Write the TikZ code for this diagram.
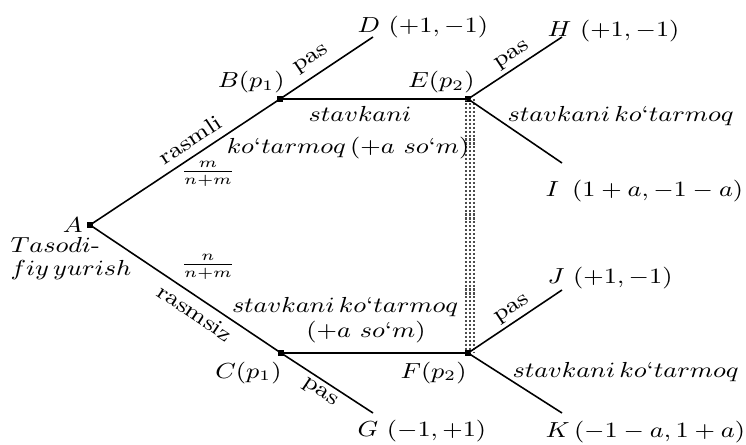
\documentclass[tikz,border=0pt]{standalone}
\usepackage{amsmath}
\usepackage{graphicx}
\newcommand\sx[1]{\scalebox{1.08}[0.92]{#1}}
\newcommand\ap{\mbox{‘}}
\begin{document}
\begin{tikzpicture}[x=0.38pt,y=-0.38pt,
  lbl/.style={inner sep=0pt, font=\fontsize{9}{11}\selectfont},
  edge/.style={line width=0.6pt},
  band/.style={line width=0.8pt, dash pattern=on 0.8pt off 0.7pt, black!70},
  dotnode/.style={fill, rectangle, inner sep=0pt, minimum size=2.2pt}]
\useasboundingbox (0,0) rectangle (746,444);
% decision points
\node[dotnode] (A) at (90,225) {};
\node[dotnode] (B) at (280,99) {};
\node[dotnode] (E) at (468,99) {};
\node[dotnode] (C) at (281,353) {};
\node[dotnode] (F) at (468,353) {};
% leaves
\coordinate (Dp) at (373,37);
\coordinate (Hp) at (562,37);
\coordinate (Ip) at (562,163);
\coordinate (Gp) at (373,413);
\coordinate (Jp) at (562,290);
\coordinate (Kp) at (562,413);
% information set band
\draw[band] ([xshift=-0.76pt]E.center) -- ([xshift=-0.76pt]F.center);
\draw[band] ([xshift=0.76pt]E.center) -- ([xshift=0.76pt]F.center);
\draw[band] ([xshift=2.28pt]E.center) -- ([xshift=2.28pt]F.center);
% edges
\draw[edge] (A.center) -- (B.center);
\draw[edge] (A.center) -- (C.center);
\draw[edge] (B.center) -- (Dp);
\draw[edge] (B.center) -- (E.center);
\draw[edge] (E.center) -- (Hp);
\draw[edge] (E.center) -- (Ip);
\draw[edge] (C.center) -- (Gp);
\draw[edge] (C.center) -- (F.center);
\draw[edge] (F.center) -- (Jp);
\draw[edge] (F.center) -- (Kp);
% labels
\node[lbl, anchor=base west] (Dl) at (357,33) {\sx{$D\ (+1,-1)$}};
\node[lbl, anchor=base west] (Hl) at (547,37) {\sx{$H\ (+1,-1)$}};
\node[lbl, anchor=base east] (Bl) at (285,88) {\sx{$B(p_1)$}};
\node[lbl, anchor=base east] (El) at (475,88) {\sx{$E(p_2)$}};
\node[lbl, anchor=base] (s1) at (360,122) {\sx{$stavkani$}};
\node[lbl, anchor=base] (s2) at (348,154) {\sx{$ko\ap tarmoq\,(+a\ so\ap m)$}};
\node[lbl, anchor=base west] (s3) at (507,122) {\sx{$stavkani\,ko\ap tarmoq$}};
\node[lbl, anchor=base west] (Il) at (545,197) {\sx{$I\ \,(1+a,-1-a)$}};
\node[lbl, anchor=base east] (Al) at (83,232) {\sx{$A$}};
\node[lbl, anchor=base west] (t1) at (10,252) {\sx{$Tasodi$-}};
\node[lbl, anchor=base west] (t2) at (10,275) {\sx{$fiy\,yurish$}};
\node[lbl] (f1) at (208,174) {\sx{$\frac{m}{n+m}$}};
\node[lbl] (f2) at (208,267) {\sx{$\frac{n}{n+m}$}};
\node[lbl, rotate=33.5] (r1) at (190,140) {\sx{rasmli}};
\node[lbl, rotate=-33.8] (r2) at (195,313) {\sx{rasmsiz}};
\node[lbl, rotate=33.7] (p1) at (312,60) {\sx{pas}};
\node[lbl, rotate=-33.8] (p2) at (320,393) {\sx{pas}};
\node[lbl, rotate=33.7] (p3) at (513,56) {\sx{pas}};
\node[lbl, rotate=33.7] (p4) at (513,310) {\sx{pas}};
\node[lbl, anchor=base] (s4) at (345,312) {\sx{$stavkani\,ko\ap tarmoq$}};
\node[lbl, anchor=base] (s5) at (366,337) {\sx{$(+a\ so\ap m)$}};
\node[lbl, anchor=base east] (Cl) at (282,378) {\sx{$C(p_1)$}};
\node[lbl, anchor=base east] (Fl) at (467,378) {\sx{$F(p_2)$}};
\node[lbl, anchor=base west] (Gl) at (357,436) {\sx{$G\ (-1,+1)$}};
\node[lbl, anchor=base west] (Jl) at (547,283) {\sx{$J\ (+1,-1)$}};
\node[lbl, anchor=base west] (s6) at (512,377) {\sx{$stavkani\,ko\ap tarmoq$}};
\node[lbl, anchor=base west] (Kl) at (545,437) {\sx{$K\,(-1-a,1+a)$}};
\end{tikzpicture}
\end{document}
